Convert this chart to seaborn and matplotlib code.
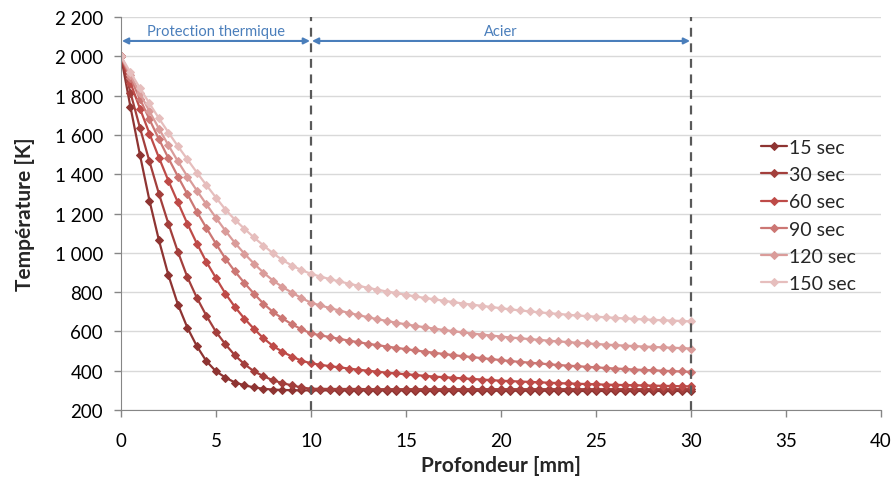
import numpy as np
import pandas as pd
import matplotlib
matplotlib.use("Agg")
import matplotlib.pyplot as plt
import matplotlib.ticker as mticker
import seaborn as sns

# profondeur [mm], pas de 0.5 mm
depth = np.arange(0, 30.5, 0.5)

temp_15 = [2000, 1742, 1498, 1266, 1063, 885, 736, 618, 524, 448, 397, 365, 340, 326, 315, 308, 304, 302, 301, 300, 300,
           300, 300, 299, 299, 299, 299, 299, 299, 299, 299,
           298, 298, 298, 298, 298, 298, 298, 298, 298, 298,
           298, 298, 298, 298, 298, 297, 297, 297, 297, 297,
           297, 297, 297, 297, 297, 297, 297, 297, 297, 297]
temp_30 = [2000, 1815, 1636, 1465, 1300, 1147, 1004, 875, 770, 679, 598, 534, 478, 433, 397, 372, 351, 337, 325, 315, 308,
           308, 307, 307, 307, 307, 306, 306, 306, 306, 306,
           306, 306, 306, 306, 306, 306, 306, 306, 306, 306,
           306, 306, 306, 306, 306, 306, 306, 306, 306, 306,
           306, 306, 306, 306, 306, 306, 306, 306, 306, 306]
temp_60 = [2000, 1865, 1734, 1607, 1484, 1366, 1256, 1147, 1046, 953, 872, 792, 724, 665, 613, 565, 526, 496, 472, 451, 438,
           430, 423, 417, 411, 405, 400, 395, 390, 386, 382,
           378, 374, 370, 367, 364, 361, 358, 355, 352, 349,
           347, 345, 343, 341, 339, 337, 335, 334, 332, 331,
           329, 328, 327, 326, 325, 324, 323, 322, 321, 320]
temp_90 = [2000, 1890, 1783, 1679, 1578, 1481, 1388, 1298, 1208, 1126, 1046, 970, 905, 846, 792, 741, 699, 666, 636, 611, 590,
           580, 571, 562, 553, 545, 537, 530, 523, 516, 510,
           503, 497, 491, 485, 479, 474, 469, 464, 459, 454,
           449, 445, 441, 437, 433, 429, 426, 423, 420, 417,
           414, 411, 409, 406, 404, 402, 400, 398, 396, 394]
temp_120 = [2000, 1904, 1811, 1720, 1632, 1547, 1465, 1388, 1316, 1246, 1178, 1112, 1050, 995, 945, 899, 859, 826, 797, 770, 746,
            732, 719, 706, 694, 683, 672, 662, 653, 644, 636,
            628, 621, 614, 607, 601, 595, 589, 584, 579, 574,
            569, 565, 561, 557, 553, 549, 546, 542, 539, 536,
            533, 530, 528, 525, 523, 521, 519, 517, 515, 513]
temp_150 = [2000, 1918, 1838, 1760, 1684, 1612, 1542, 1475, 1408, 1344, 1281, 1220, 1168, 1122, 1078, 1037, 998, 963, 935, 912, 893,
            879, 866, 854, 843, 832, 822, 812, 803, 795, 786,
            778, 770, 763, 756, 749, 742, 736, 730, 724, 718,
            712, 707, 702, 697, 693, 689, 685, 681, 678, 675,
            672, 669, 666, 664, 661, 659, 657, 655, 653, 651]

labels = ["15 sec", "30 sec", "60 sec", "90 sec", "120 sec", "150 sec"]
series = [temp_15, temp_30, temp_60, temp_90, temp_120, temp_150]
colors = ["#8E3432", "#A33F3C", "#BE4B48", "#CC7774", "#DA9C9A", "#E6BEBD"]

sns.set_style("white")
plt.rcParams['font.family'] = ['Lato', 'DejaVu Sans']

fig = plt.figure(figsize=(8.94, 4.81), dpi=100)
ax = fig.add_axes([0.1353, 0.1455, 0.8502, 0.8171])

for lab, vals, col in zip(labels, series, colors):
    sns.lineplot(x=depth, y=vals, ax=ax, color=col, label=lab, marker="D",
                 markersize=4.5, markeredgecolor=col, linewidth=1.6)

ax.set_xlim(0, 40)
ax.set_ylim(200, 2200)
ax.set_xticks(range(0, 41, 5))
ax.set_yticks(range(200, 2201, 200))
ax.yaxis.set_major_formatter(mticker.FuncFormatter(lambda v, p: f"{int(v):,}".replace(",", " ")))
ax.grid(axis="y", color="#D9D9D9", linewidth=1)
ax.set_axisbelow(True)

for s in ["top", "right"]:
    ax.spines[s].set_visible(False)
for s in ["left", "bottom"]:
    ax.spines[s].set_color("#868686")
ax.tick_params(axis="both", which="major", direction="out", length=5, width=1,
               color="#868686", labelsize=13.5, labelcolor="black",
               left=True, bottom=True)
ax.tick_params(axis="y", pad=8)
ax.tick_params(axis="x", pad=11)

ax.set_xlabel("Profondeur [mm]", fontsize=15, fontweight="bold", labelpad=4)
ax.set_ylabel("Température [K]", fontsize=15, fontweight="bold", labelpad=14)

# limites des couches
for xv in [10, 30]:
    ax.axvline(xv, color="#595959", linestyle=(0, (4, 3)), linewidth=1.6)

blue = "#4A7EBB"
for x0, x1, txt in [(0, 10, "Protection thermique"), (10, 30, "Acier")]:
    ax.annotate("", xy=(x0 + 0.05, 2078), xytext=(x1 - 0.05, 2078),
                arrowprops=dict(arrowstyle="<|-|>", color=blue, lw=1.5,
                                mutation_scale=9, shrinkA=0, shrinkB=0))
    ax.text((x0 + x1) / 2, 2128, txt, color=blue, fontsize=10.5,
            ha="center", va="center")

leg = ax.legend(loc="upper left", bbox_to_anchor=(0.832, 0.71), frameon=False,
                fontsize=14, handlelength=1.35, handletextpad=0.1,
                labelspacing=0.53, borderaxespad=0)

fig.savefig("out.png", dpi=100)
